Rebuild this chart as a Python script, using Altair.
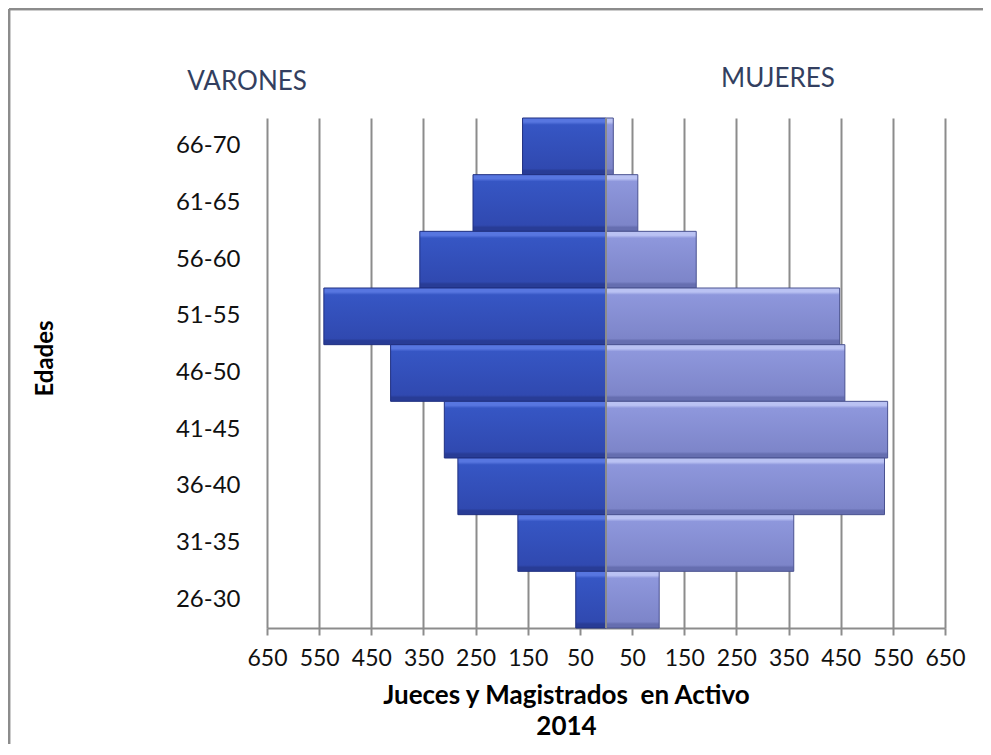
import altair as alt
import pandas as pd

ages = ["66-70", "61-65", "56-60", "51-55", "46-50", "41-45", "36-40", "31-35", "26-30"]
varones = [160, 255, 357, 541, 413, 310, 284, 169, 58]
mujeres = [14, 61, 173, 448, 458, 540, 534, 360, 102]
tick_values = [-650, -550, -450, -350, -250, -150, -50, 50, 150, 250, 350, 450, 550, 650]
group_labels = ["VARONES", "MUJERES"]

rows = []
for a, v, m in zip(ages, varones, mujeres):
    rows.append({"edad": a, "sexo": "Varones", "valor": -v})
    rows.append({"edad": a, "sexo": "Mujeres", "valor": m})
df = pd.DataFrame(rows)

GRID = "#8C8C8C"
FONT = "Lato"

def bevel(top, mid1, mid2, bottom):
    return alt.Gradient(
        gradient="linear", x1=0, x2=0, y1=0, y2=1,
        stops=[
            alt.GradientStop(color=top, offset=0),
            alt.GradientStop(color=top, offset=0.07),
            alt.GradientStop(color=mid1, offset=0.12),
            alt.GradientStop(color=mid2, offset=0.89),
            alt.GradientStop(color=bottom, offset=0.93),
            alt.GradientStop(color=bottom, offset=1),
        ],
    )

x_enc = alt.X(
    "valor:Q",
    scale=alt.Scale(domain=[-650, 650], nice=False, zero=False),
    axis=alt.Axis(
        values=tick_values,
        labelExpr="abs(datum.value)",
        labelOverlap=False, labelFlush=False,
        grid=True, gridColor=GRID, gridWidth=2,
        domainColor=GRID, domainWidth=2,
        tickColor=GRID, tickWidth=2, tickSize=7,
        labelFont=FONT, labelFontSize=23, labelColor="#111111",
        labelPadding=12,
        title=["Jueces y Magistrados\u00a0 en Activo", "2014"],
        titleFont=FONT, titleFontSize=26, titleFontWeight="bold",
        titleColor="#000000", titleLineHeight=31,
        titleX=299, titleY=54, titleAnchor="start", titleAlign="center",
        titleBaseline="top",
    ),
)
y_enc = alt.Y(
    "edad:N",
    sort=ages,
    scale=alt.Scale(paddingInner=0, paddingOuter=0),
    axis=alt.Axis(
        ticks=False, domain=False, grid=False,
        labelFont=FONT, labelFontSize=24, labelColor="#111111",
        labelPadding=27,
        title="Edades", titleFont=FONT, titleFontSize=24, titleFontWeight="bold",
        titleColor="#000000", titleAngle=270, titleX=-222, titleY=240,
        titleAlign="center", titleBaseline="middle",
    ),
)

base = alt.Chart(df)

bars_v = base.transform_filter(alt.datum.sexo == "Varones").mark_bar(
    color=bevel("#5776E0", "#3656C4", "#3049B0", "#283C96"),
    stroke="#1F2F80", strokeWidth=1,
).encode(x=x_enc, y=y_enc)

bars_m = base.transform_filter(alt.datum.sexo == "Mujeres").mark_bar(
    color=bevel("#BAC2F3", "#8E97DC", "#7D85C9", "#666EB0"),
    stroke="#4A5290", strokeWidth=1,
).encode(x=x_enc, y=y_enc)

center = alt.Chart(pd.DataFrame({"c": [0]})).mark_rule(
    color=GRID, strokeWidth=2
).encode(x=alt.X("c:Q"))

lab_df = pd.DataFrame({"t": group_labels})
lab_v = alt.Chart(lab_df).transform_filter(alt.datum.t == "VARONES").mark_text(
    font=FONT, fontSize=26, color="#333F60", align="center", baseline="middle"
).encode(text="t:N", x=alt.value(-20), y=alt.value(-36))
lab_m = alt.Chart(lab_df).transform_filter(alt.datum.t == "MUJERES").mark_text(
    font=FONT, fontSize=26, color="#333F60", align="center", baseline="middle"
).encode(text="t:N", x=alt.value(511), y=alt.value(-39))

frame_top = alt.Chart(lab_df).mark_rule(color=GRID, strokeWidth=2.5).encode(
    x=alt.value(-258), x2=alt.value(740), y=alt.value(-109)
)
frame_left = alt.Chart(lab_df).mark_rule(color=GRID, strokeWidth=2.5).encode(
    x=alt.value(-258), y=alt.value(-109), y2=alt.value(700)
)

chart = alt.layer(
    bars_v, bars_m, center, lab_v, lab_m, frame_top, frame_left
).properties(
    width=678, height=510,
    autosize=alt.AutoSizeParams(type="none"),
    padding={"left": 259, "top": 110, "right": 38, "bottom": 116},
    background="white",
).configure_view(stroke=None)

chart.save("out.html", embed_options={"renderer": "svg", "actions": False})
